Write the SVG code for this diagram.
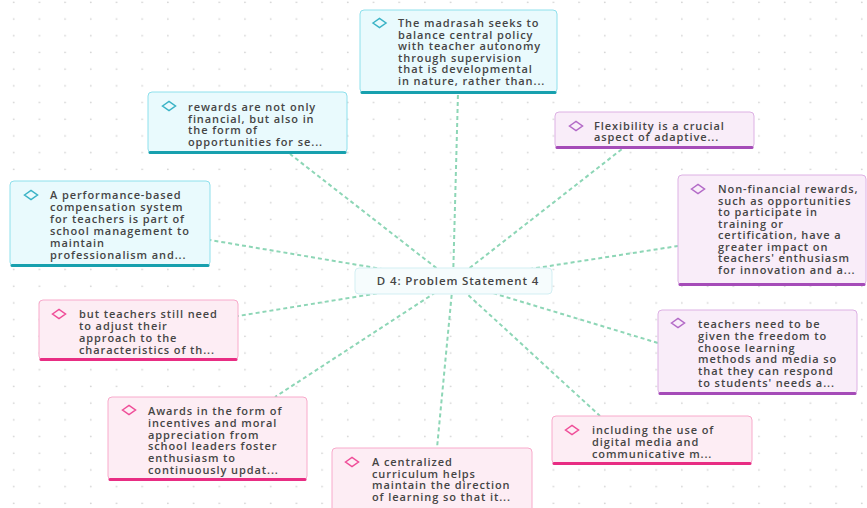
<svg xmlns="http://www.w3.org/2000/svg" xmlns:xlink="http://www.w3.org/1999/xlink" width="867" height="508" viewBox="0 0 867 508">
<style>
.t{font-family:"Open Sans","Liberation Sans",sans-serif;font-size:11px;font-weight:600;fill:#454545;letter-spacing:0.9px}
.ct{font-family:"Open Sans","Liberation Sans",sans-serif;font-size:11.5px;font-weight:600;fill:#454545;letter-spacing:0.85px}
.cy .b{fill:#e9fafd;stroke:#8ee0ec;stroke-width:1}
.cy .u{stroke:#17a0ae}
.cy .d{stroke:#3ab3c6}
.pu .b{fill:#f9edf9;stroke:#ddb1e4;stroke-width:1}
.pu .u{stroke:#a54bb8}
.pu .d{stroke:#b36ac7}
.pk .b{fill:#fdedf4;stroke:#f8aacb;stroke-width:1}
.pk .u{stroke:#e82d83}
.pk .d{stroke:#ef4d98}
.u{stroke-width:3;stroke-linecap:round;fill:none}
.d{fill:none;stroke-width:1.5}
.c{stroke:#8dd6b6;stroke-width:2;stroke-dasharray:4 3;fill:none}
</style>
<defs>
<pattern id="dots" patternUnits="userSpaceOnUse" width="25.7" height="16.7">
<circle cx="13.7" cy="2.3" r="0.9" fill="#d3d3d3"/>
</pattern>
<path id="dia" d="M-6.5,0 L0,-4.5 L6.5,0 L0,4.5 Z"/>
</defs>
<rect width="867" height="508" fill="#ffffff"/>
<rect width="867" height="508" fill="url(#dots)"/>
<g id="connectors">
<line class="c" x1="453" y1="281" x2="458" y2="93"/>
<line class="c" x1="453" y1="281" x2="290" y2="154"/>
<line class="c" x1="453" y1="281" x2="210" y2="240"/>
<line class="c" x1="453" y1="281" x2="622" y2="149"/>
<line class="c" x1="453" y1="281" x2="678" y2="246"/>
<line class="c" x1="453" y1="281" x2="238" y2="316"/>
<line class="c" x1="453" y1="281" x2="658" y2="343"/>
<line class="c" x1="453" y1="281" x2="275" y2="397"/>
<line class="c" x1="453" y1="281" x2="600" y2="416"/>
<line class="c" x1="453" y1="281" x2="437" y2="448"/>
</g>
<g id="center">
<rect x="355" y="268" width="197" height="26" rx="4" fill="#f6fcfd" stroke="#d3eff3" stroke-width="1"/>
<text class="ct" x="458" y="285" text-anchor="middle">D 4: Problem Statement 4</text>
</g>
<g id="n1" class="cy">
<rect class="b" x="360" y="10" width="197" height="83" rx="4"/>
<line class="u" x1="362" y1="92.5" x2="555" y2="92.5"/>
<use href="#dia" class="d" x="379.5" y="23"/>
<text class="t" x="398" y="27"><tspan x="398">The madrasah seeks to</tspan><tspan x="398" dy="11.6">balance central policy</tspan><tspan x="398" dy="11.6">with teacher autonomy</tspan><tspan x="398" dy="11.6">through supervision</tspan><tspan x="398" dy="11.6">that is developmental</tspan><tspan x="398" dy="11.6">in nature, rather than...</tspan></text>
</g>
<g id="n2" class="cy">
<rect class="b" x="148" y="92" width="199" height="61" rx="4"/>
<line class="u" x1="150" y1="152.5" x2="345" y2="152.5"/>
<use href="#dia" class="d" x="169" y="106"/>
<text class="t" x="188" y="111"><tspan x="188">rewards are not only</tspan><tspan x="188" dy="11.7">financial, but also in</tspan><tspan x="188" dy="11.7">the form of</tspan><tspan x="188" dy="11.7">opportunities for se...</tspan></text>
</g>
<g id="n3" class="cy">
<rect class="b" x="10" y="181" width="200" height="85" rx="4"/>
<line class="u" x1="12" y1="265.5" x2="208" y2="265.5"/>
<use href="#dia" class="d" x="31" y="195"/>
<text class="t" x="50" y="199"><tspan x="50">A performance-based</tspan><tspan x="50" dy="11.9">compensation system</tspan><tspan x="50" dy="11.9">for teachers is part of</tspan><tspan x="50" dy="11.9">school management to</tspan><tspan x="50" dy="11.9">maintain</tspan><tspan x="50" dy="11.9">professionalism and...</tspan></text>
</g>
<g id="n4" class="pu">
<rect class="b" x="555" y="112" width="199" height="36" rx="4"/>
<line class="u" x1="557" y1="147.5" x2="752" y2="147.5"/>
<use href="#dia" class="d" x="576" y="126"/>
<text class="t" x="594" y="130"><tspan x="594">Flexibility is a crucial</tspan><tspan x="594" dy="11.3">aspect of adaptive...</tspan></text>
</g>
<g id="n5" class="pu">
<rect class="b" x="678" y="175" width="188" height="110" rx="4"/>
<line class="u" x1="680" y1="284.5" x2="864" y2="284.5"/>
<use href="#dia" class="d" x="698" y="189"/>
<text class="t" x="718" y="193"><tspan x="718">Non-financial rewards,</tspan><tspan x="718" dy="11.5">such as opportunities</tspan><tspan x="718" dy="11.5">to participate in</tspan><tspan x="718" dy="11.5">training or</tspan><tspan x="718" dy="11.5">certification, have a</tspan><tspan x="718" dy="11.5">greater impact on</tspan><tspan x="718" dy="11.5">teachers' enthusiasm</tspan><tspan x="718" dy="11.5">for innovation and a...</tspan></text>
</g>
<g id="n6" class="pk">
<rect class="b" x="39" y="300" width="199" height="60" rx="4"/>
<line class="u" x1="41" y1="359.5" x2="236" y2="359.5"/>
<use href="#dia" class="d" x="59" y="314"/>
<text class="t" x="79" y="318"><tspan x="79">but teachers still need</tspan><tspan x="79" dy="12">to adjust their</tspan><tspan x="79" dy="12">approach to the</tspan><tspan x="79" dy="12">characteristics of th...</tspan></text>
</g>
<g id="n7" class="pu">
<rect class="b" x="658" y="310" width="199" height="84" rx="4"/>
<line class="u" x1="660" y1="393.5" x2="855" y2="393.5"/>
<use href="#dia" class="d" x="678" y="323"/>
<text class="t" x="698" y="328"><tspan x="698">teachers need to be</tspan><tspan x="698" dy="11.8">given the freedom to</tspan><tspan x="698" dy="11.8">choose learning</tspan><tspan x="698" dy="11.8">methods and media so</tspan><tspan x="698" dy="11.8">that they can respond</tspan><tspan x="698" dy="11.8">to students' needs a...</tspan></text>
</g>
<g id="n8" class="pk">
<rect class="b" x="108" y="397" width="199" height="83" rx="4"/>
<line class="u" x1="110" y1="479.5" x2="305" y2="479.5"/>
<use href="#dia" class="d" x="129" y="410"/>
<text class="t" x="148" y="415"><tspan x="148">Awards in the form of</tspan><tspan x="148" dy="11.8">incentives and moral</tspan><tspan x="148" dy="11.8">appreciation from</tspan><tspan x="148" dy="11.8">school leaders foster</tspan><tspan x="148" dy="11.8">enthusiasm to</tspan><tspan x="148" dy="11.8">continuously updat...</tspan></text>
</g>
<g id="n9" class="pk">
<rect class="b" x="552" y="416" width="200" height="48" rx="4"/>
<line class="u" x1="554" y1="463.5" x2="750" y2="463.5"/>
<use href="#dia" class="d" x="572" y="430"/>
<text class="t" x="592" y="434"><tspan x="592">including the use of</tspan><tspan x="592" dy="12">digital media and</tspan><tspan x="592" dy="12">communicative m...</tspan></text>
</g>
<g id="n10" class="pk">
<rect class="b" x="332" y="448" width="200" height="64" rx="4"/>
<use href="#dia" class="d" x="352" y="462"/>
<text class="t" x="372" y="466"><tspan x="372">A centralized</tspan><tspan x="372" dy="11.7">curriculum helps</tspan><tspan x="372" dy="11.7">maintain the direction</tspan><tspan x="372" dy="11.7">of learning so that it...</tspan></text>
</g>
</svg>
